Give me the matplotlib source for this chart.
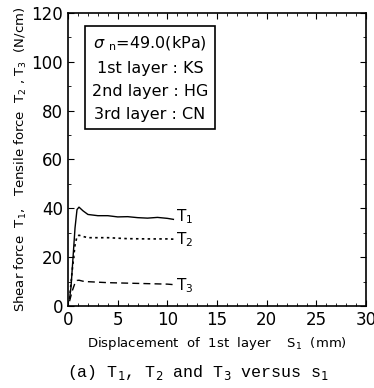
import matplotlib.pyplot as plt
from matplotlib.ticker import MultipleLocator

# Displacement S1 (mm) and forces (N/cm)
s1_t1 = [0.15, 0.3, 0.5, 0.7, 0.9, 1.1, 1.5, 2, 3, 4, 5, 6, 7, 8, 9, 10, 10.6]
t1 = [3, 8, 20, 32, 39.5, 40.5, 39, 37.5, 37, 37, 36.5, 36.6, 36.2, 36, 36.3, 35.9, 35.5]

s1_t2 = [0.15, 0.4, 0.7, 0.9, 1.1, 1.5, 2, 4, 6, 8, 10, 10.6]
t2 = [3, 14, 25, 28.5, 29, 28.5, 28, 28, 27.6, 27.5, 27.5, 27.4]

s1_t3 = [0.15, 0.4, 0.7, 0.9, 1.1, 1.5, 2, 4, 6, 8, 10, 10.6]
t3 = [2, 6, 9.5, 10.5, 10.6, 10.2, 10, 9.6, 9.4, 9.2, 9.0, 8.8]

curve_labels = ['T$_1$', 'T$_2$', 'T$_3$']
box_lines = ['$\\sigma$ $_{\\rm n}$=49.0(kPa)', '1st layer : KS', '2nd layer : HG', '3rd layer : CN']

fig = plt.figure(figsize=(3.74, 3.88), dpi=100)
ax = fig.add_axes([0.182, 0.211, 0.797, 0.756])

ax.plot(s1_t1, t1, color='black', lw=1.0, ls='-')
ax.plot(s1_t2, t2, color='black', lw=1.2, ls=(0, (1.5, 2)))
ax.plot(s1_t3, t3, color='black', lw=1.0, ls=(0, (5, 3)))

ax.text(s1_t1[-1] + 0.3, t1[-1] + 1, curve_labels[0], fontsize=11, va='center')
ax.text(s1_t2[-1] + 0.3, t2[-1], curve_labels[1], fontsize=11, va='center')
ax.text(s1_t3[-1] + 0.3, t3[-1] - 0.5, curve_labels[2], fontsize=11, va='center')

ax.set_xlim(0, 30)
ax.set_ylim(0, 120)
ax.xaxis.set_major_locator(MultipleLocator(5))
ax.xaxis.set_minor_locator(MultipleLocator(1))
ax.yaxis.set_major_locator(MultipleLocator(20))
ax.yaxis.set_minor_locator(MultipleLocator(10))
ax.tick_params(which='both', direction='in', top=True, right=True, labelsize=12)
ax.tick_params(which='major', length=4)
ax.tick_params(which='minor', length=2)
for sp in ax.spines.values():
    sp.set_linewidth(1.2)

ax.set_xlabel('Displacement  of  1st  layer    S$_1$  (mm)', fontsize=9.5, labelpad=4)
ax.set_ylabel('Shear force  T$_1$,   Tensile force  T$_2$ , T$_3$  (N/cm)', fontsize=9.5, labelpad=2)

ax.text(0.275, 0.925, '\n'.join(box_lines), transform=ax.transAxes, fontsize=11.5,
        va='top', ha='center', multialignment='center', linespacing=1.65,
        bbox=dict(boxstyle='square,pad=0.45', fc='white', ec='black', lw=1.2))

fig.text(0.53, 0.028, '(a) T$_1$, T$_2$ and T$_3$ versus s$_1$', ha='center',
         fontsize=12, family='Liberation Mono')

fig.savefig('out.png', dpi=100)
